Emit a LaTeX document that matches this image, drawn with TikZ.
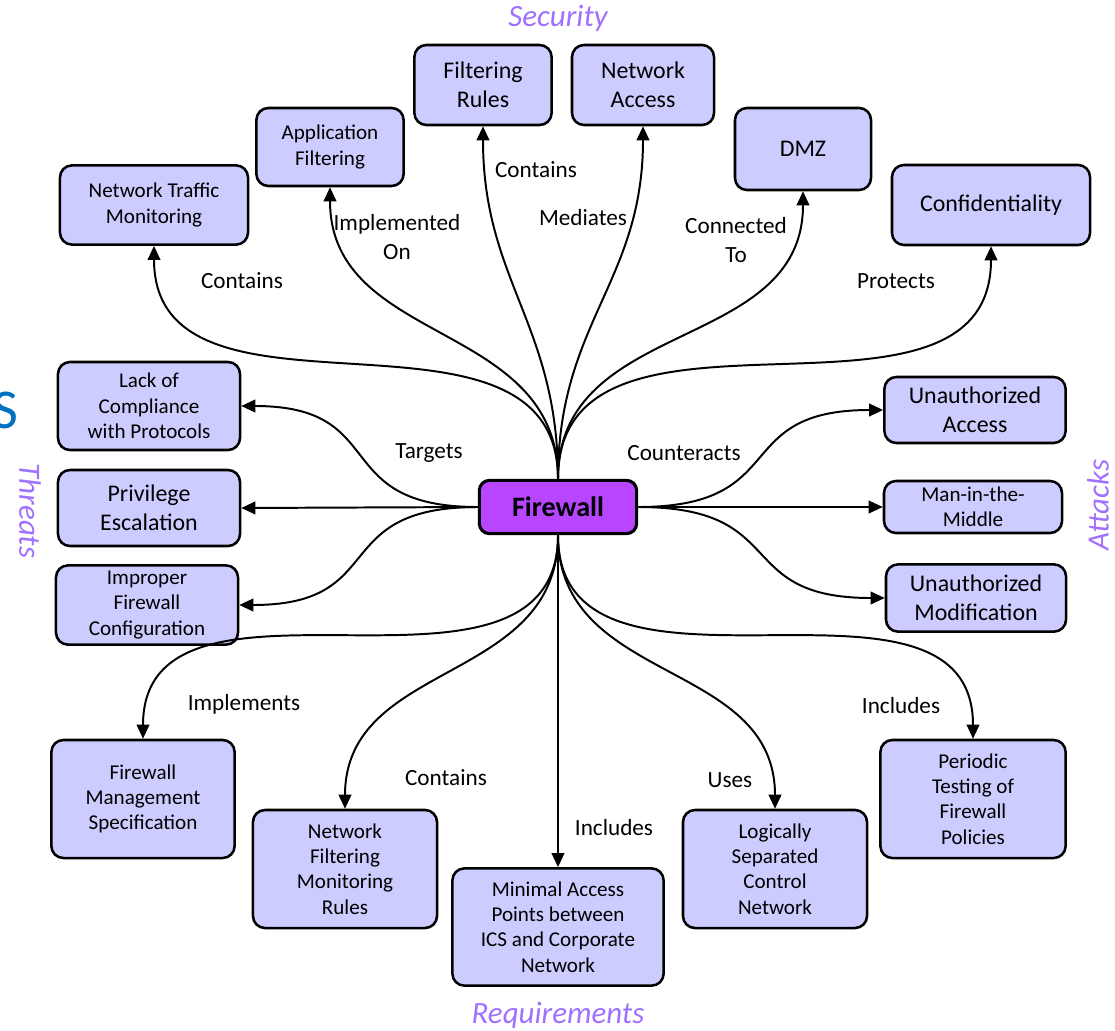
\documentclass[tikz,border=0pt]{standalone}
\usepackage{fontspec}
\setmainfont{Carlito}
\usepackage{xcolor}
\usepackage{tikz}
\usetikzlibrary{arrows.meta}
\definecolor{boxfill}{HTML}{CCCCFF}
\definecolor{fwfill}{HTML}{B845FF}
\definecolor{catcol}{HTML}{A070FF}
\definecolor{sblue}{HTML}{0070C0}
\begin{document}
\begin{tikzpicture}[x=0.025cm,y=-0.025cm,
  box/.style={draw,line width=1.8pt,rounded corners=0.3cm,fill=boxfill,align=center,inner sep=2pt,font=\fontsize{15}{18}\selectfont},
  bigbox/.style={box,font=\fontsize{17}{20.5}\selectfont},
  link/.style={line width=1.4pt,-{Triangle[length=10pt,width=9pt]}},
  lbl/.style={align=center,font=\fontsize{16.5}{20}\selectfont},
  cat/.style={text=catcol,inner sep=1pt,font=\fontsize{22}{26}\selectfont\itshape}]
  \useasboundingbox (0,0) rectangle (1115,1030);
  \node[draw,line width=2.2pt,rounded corners=0.25cm,fill=fwfill,minimum width=3.93cm,minimum height=1.33cm,font=\fontsize{20}{24}\selectfont\bfseries] (fw) at (558,507) {Firewall};
  \node[box,minimum width=4.7cm,minimum height=1.98cm] (ntm) at (154,205) {Network Traffic\\Monitoring};
  \node[box,minimum width=3.68cm,minimum height=1.95cm] (app) at (330,147) {Application\\Filtering};
  \node[bigbox,minimum width=3.43cm,minimum height=2cm] (filt) at (483,85) {Filtering\\Rules};
  \node[bigbox,minimum width=3.55cm,minimum height=2cm] (nacc) at (643,85) {Network\\Access};
  \node[bigbox,minimum width=3.4cm,minimum height=2.05cm] (dmz) at (803,149) {DMZ};
  \node[bigbox,minimum width=4.95cm,minimum height=2cm] (conf) at (991,205) {Confidentiality};
  \node[box,minimum width=4.55cm,minimum height=2.2cm] (lack) at (149,406) {Lack of\\Compliance\\with Protocols};
  \node[bigbox,minimum width=4.55cm,minimum height=1.9cm] (priv) at (149,508) {Privilege\\Escalation};
  \node[box,minimum width=4.55cm,minimum height=1.98cm] (impr) at (147,605) {Improper\\Firewall\\Configuration};
  \node[bigbox,minimum width=4.53cm,minimum height=1.65cm] (ua) at (975,410) {Unauthorized\\Access};
  \node[box,minimum width=4.45cm,minimum height=1.3cm] (mitm) at (973,507) {Man-in-the-\\Middle};
  \node[bigbox,minimum width=4.5cm,minimum height=1.68cm] (um) at (976,598) {Unauthorized\\Modification};
  \node[box,minimum width=4.58cm,minimum height=2.95cm] (fms) at (143,799) {Firewall\\Management\\Specification};
  \node[box,minimum width=4.6cm,minimum height=2.95cm] (nfmr) at (345,869) {Network\\Filtering\\Monitoring\\Rules};
  \node[box,minimum width=5.28cm,minimum height=2.93cm] (map) at (558,927) {Minimal Access\\Points between\\ICS and Corporate\\Network};
  \node[box,minimum width=4.6cm,minimum height=2.95cm] (lsc) at (775,869) {Logically\\Separated\\Control\\Network};
  \node[box,minimum width=4.63cm,minimum height=2.95cm] (ptf) at (973,799) {Periodic\\Testing of\\Firewall\\Policies};
  \draw[link] (fw.north) to[out=90,in=-90,looseness=1.1] (ntm.south);
  \draw[link] (fw.north) to[out=90,in=-90,looseness=1.1] (app.south);
  \draw[link] (fw.north) to[out=90,in=-90,looseness=1.1] (filt.south);
  \draw[link] (fw.north) to[out=90,in=-90,looseness=1.1] (nacc.south);
  \draw[link] (fw.north) to[out=90,in=-90,looseness=1.1] (dmz.south);
  \draw[link] (fw.north) to[out=90,in=-90,looseness=1.1] (conf.south);
  \draw[link] (fw.west) to[out=180,in=0,looseness=1.5] (lack.east);
  \draw[link] (fw.west) -- (priv.east);
  \draw[link] (fw.west) to[out=180,in=0,looseness=1.5] (impr.east);
  \draw[link] (fw.east) to[out=0,in=180,looseness=1.5] (ua.west);
  \draw[link] (fw.east) -- (mitm.west);
  \draw[link] (fw.east) to[out=0,in=180,looseness=1.5] (um.west);
  \draw[link] (fw.south) to[out=-90,in=90,looseness=1.1] (fms.north);
  \draw[link] (fw.south) to[out=-90,in=90,looseness=1.1] (nfmr.north);
  \draw[link] (fw.south) -- (map.north);
  \draw[link] (fw.south) to[out=-90,in=90,looseness=1.1] (lsc.north);
  \draw[link] (fw.south) to[out=-90,in=90,looseness=1.1] (ptf.north);
  \node[lbl] (l-ntm) at (242,281) {Contains};
  \node[lbl] (l-app) at (397,237) {Implemented\\On};
  \node[lbl] (l-filt) at (536,170) {Contains};
  \node[lbl] (l-nacc) at (583,218) {Mediates};
  \node[lbl] (l-dmz) at (736,240) {Connected\\To};
  \node[lbl] (l-conf) at (896,281) {Protects};
  \node[lbl] (l-thr) at (429,453) {Targets};
  \node[lbl] (l-att) at (684,453) {Counteracts};
  \node[lbl] (l-fms) at (244,704) {Implements};
  \node[lbl] (l-nfmr) at (446,778) {Contains};
  \node[lbl] (l-map) at (614,828) {Includes};
  \node[lbl] (l-lsc) at (730,780) {Uses};
  \node[lbl] (l-ptf) at (901,706) {Includes};
  \node[cat] (c-sec) at (558,18) {Security};
  \node[cat] (c-req) at (558,1015) {Requirements};
  \node[cat,rotate=-90] (c-thr) at (30,511) {Threats};
  \node[cat,rotate=90] (c-att) at (1098,505) {Attacks};
  \node[text=sblue,anchor=east,inner sep=0pt,font=\fontsize{40}{44}\selectfont] (c-s) at (19,410) {S};
\end{tikzpicture}
\end{document}
